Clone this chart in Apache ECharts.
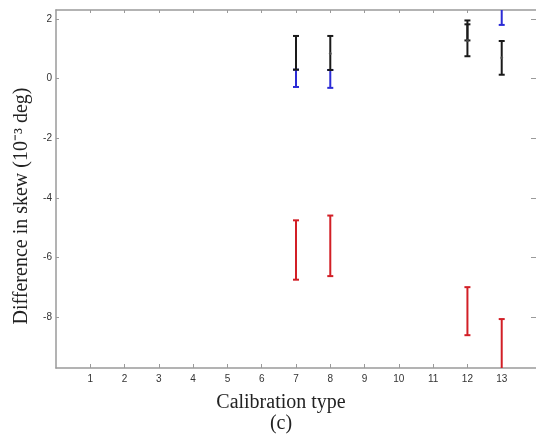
<!DOCTYPE html>
<html><head><meta charset="utf-8">
<script src="https://cdn.jsdelivr.net/npm/echarts@6/dist/echarts.min.js"></script>
<style>html,body{margin:0;padding:0;background:#fff}#c{width:536px;height:434px}</style>
</head><body><div id="c"></div>
<script>
const xTicks = [1,2,3,4,5,6,7,8,9,10,11,12,13];
const yTicks = [-8,-6,-4,-2,0,2];
// error bars: [x, low, high]
const blueBars  = [[7,-0.28,0.30],[8,-0.31,0.29],[13,1.80,2.70]];
const blackBars = [[7,0.30,1.43],[8,0.29,1.43],[12,0.75,1.82],[12,1.28,1.95],[13,0.13,1.26]];
const redBars   = [[7,-6.74,-4.75],[8,-6.62,-4.59],[12,-8.60,-6.99],[13,-10.5,-8.06]];
const blackMeans = [[8,0.84],[12,1.28],[13,0.70]];

const chart = echarts.init(document.getElementById('c'));
function errRender(color){
  return function(params, api){
    const x = api.value(0), lo = api.value(1), hi = api.value(2);
    const pLo = api.coord([x,lo]), pHi = api.coord([x,hi]);
    const w = 3;
    const st = {stroke: color, lineWidth: 2};
    return {type:'group', children:[
      {type:'line', shape:{x1:pLo[0],y1:pLo[1],x2:pHi[0],y2:pHi[1]}, style:st},
      {type:'line', shape:{x1:pLo[0]-w,y1:pLo[1],x2:pLo[0]+w,y2:pLo[1]}, style:st},
      {type:'line', shape:{x1:pHi[0]-w,y1:pHi[1],x2:pHi[0]+w,y2:pHi[1]}, style:st}
    ]};
  };
}
const line = {show:true, onZero:false, lineStyle:{color:'#9a9a9a', width:1.5}};
function tick(vals, len){ return {show:true, inside:true, length:len, customValues:vals, lineStyle:{color:'#9a9a9a'}}; }
chart.setOption({
  animation:false,
  grid:{left:56, top:10, width:482, height:358},
  xAxis:[
    {type:'value', min:0, max:14, position:'bottom', axisLine:line, axisTick:tick(xTicks,4), splitLine:{show:false},
      axisLabel:{customValues:xTicks, color:'#333', fontSize:10, fontFamily:'Liberation Sans', margin:6}},
    {type:'value', min:0, max:14, position:'top', axisLine:line, axisTick:tick(xTicks,3), splitLine:{show:false},
      axisLabel:{show:false}}
  ],
  yAxis:[
    {type:'value', min:-9.7, max:2.3, position:'left', axisLine:line, axisTick:tick(yTicks,3), splitLine:{show:false},
      axisLabel:{customValues:yTicks, color:'#333', fontSize:10, fontFamily:'Liberation Sans', margin:4}},
    {type:'value', min:-9.7, max:2.3, position:'right', axisLine:{show:false, onZero:false}, axisTick:tick(yTicks,5), splitLine:{show:false},
      axisLabel:{show:false}}
  ],
  series:[
    {type:'custom', clip:true, renderItem:errRender('#d21f26'), data:redBars, z:2},
    {type:'custom', clip:true, renderItem:errRender('#2b2bd6'), data:blueBars, z:3},
    {type:'custom', clip:true, renderItem:errRender('#1a1a1a'), data:blackBars, z:4},
    {type:'scatter', data:blackMeans, symbolSize:3, itemStyle:{color:'#555'}, z:5}
  ],
  graphic:[
    {type:'text', x:22, y:206, rotation:Math.PI/2, style:{text:'Difference in skew (10\u207B\u00B3 deg)', font:'20px "Liberation Serif"', fill:'#222', textAlign:'center', textVerticalAlign:'middle'}},
    {type:'text', x:281, y:403, style:{text:'Calibration type', font:'20px "Liberation Serif"', fill:'#222', textAlign:'center', textVerticalAlign:'middle'}},
    {type:'text', x:281, y:424, style:{text:'(c)', font:'20px "Liberation Serif"', fill:'#222', textAlign:'center', textVerticalAlign:'middle'}}
  ]
});
</script></body></html>
